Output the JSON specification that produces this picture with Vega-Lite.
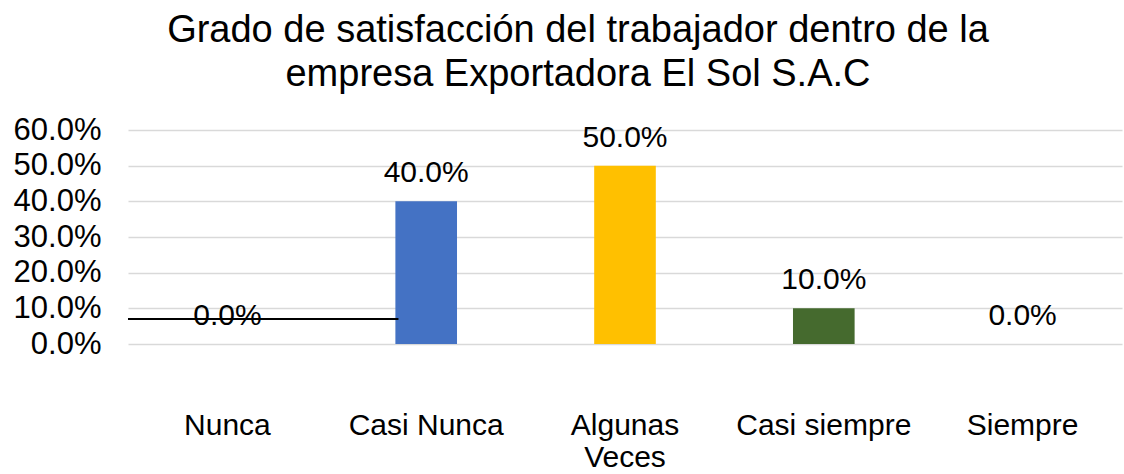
{
  "$schema": "https://vega.github.io/schema/vega-lite/v6.json",
  "width": 994,
  "height": 214,
  "autosize": {"type": "none"},
  "padding": {"left": 128, "top": 130, "right": 2, "bottom": 130},
  "background": "white",
  "config": {"font": "Liberation Sans", "view": {"stroke": null}},
  "title": {
    "text": ["Grado de satisfacción del trabajador dentro de la", "empresa Exportadora El Sol S.A.C"],
    "fontSize": 38,
    "fontWeight": "normal",
    "color": "#000000",
    "anchor": "middle",
    "dx": -47,
    "offset": 20,
    "lineHeight": 44
  },
  "data": {
    "values": [
      {"categoria": "Nunca", "valor": 0.0, "color": "#4472C4"},
      {"categoria": "Casi Nunca", "valor": 0.4, "color": "#4472C4"},
      {"categoria": "Algunas Veces", "valor": 0.5, "color": "#FFC000"},
      {"categoria": "Casi siempre", "valor": 0.1, "color": "#456A2E"},
      {"categoria": "Siempre", "valor": 0.0, "color": "#4472C4"}
    ]
  },
  "encoding": {
    "x": {
      "field": "categoria",
      "type": "nominal",
      "sort": null,
      "scale": {"paddingInner": 0.69, "paddingOuter": 0.345},
      "axis": {
        "title": null,
        "labelAngle": 0,
        "labelFontSize": 30,
        "labelColor": "#000000",
        "labelPadding": 66,
        "labelLimit": 0,
        "ticks": false,
        "domain": false,
        "labelLineHeight": 32,
        "labelOverlap": false,
        "labelBound": false,
        "labelExpr": "datum.value == 'Algunas Veces' ? ['Algunas', 'Veces'] : datum.value"
      }
    },
    "y": {
      "field": "valor",
      "type": "quantitative",
      "scale": {"domain": [0, 0.6]},
      "axis": {
        "title": null,
        "format": ".1%",
        "values": [0, 0.1, 0.2, 0.3, 0.4, 0.5, 0.6],
        "labelFontSize": 31,
        "labelColor": "#000000",
        "labelPadding": 27,
        "labelOverlap": false,
        "labelBound": false,
        "labelFlush": false,
        "ticks": false,
        "domain": false,
        "gridColor": "#d9d9d9",
        "gridWidth": 1.5
      }
    }
  },
  "layer": [
    {
      "mark": {"type": "bar"},
      "encoding": {
        "color": {"field": "color", "type": "nominal", "scale": null}
      }
    },
    {
      "mark": {"type": "text", "fontSize": 30, "baseline": "middle", "dy": -28, "color": "#000000"},
      "encoding": {
        "text": {"field": "valor", "type": "quantitative", "format": ".1%"}
      }
    },
    {
      "data": {"values": [{"desde": "Nunca", "hasta": "Casi Nunca", "nivel": 0.07}]},
      "mark": {"type": "rule", "color": "#000000", "strokeWidth": 2},
      "encoding": {
        "x": {"field": "desde", "type": "nominal", "sort": null, "bandPosition": -1.113},
        "x2": {"field": "hasta", "bandPosition": 0.05},
        "y": {"field": "nivel", "type": "quantitative"},
        "color": {"value": "#000000"},
        "text": null
      }
    }
  ]
}
